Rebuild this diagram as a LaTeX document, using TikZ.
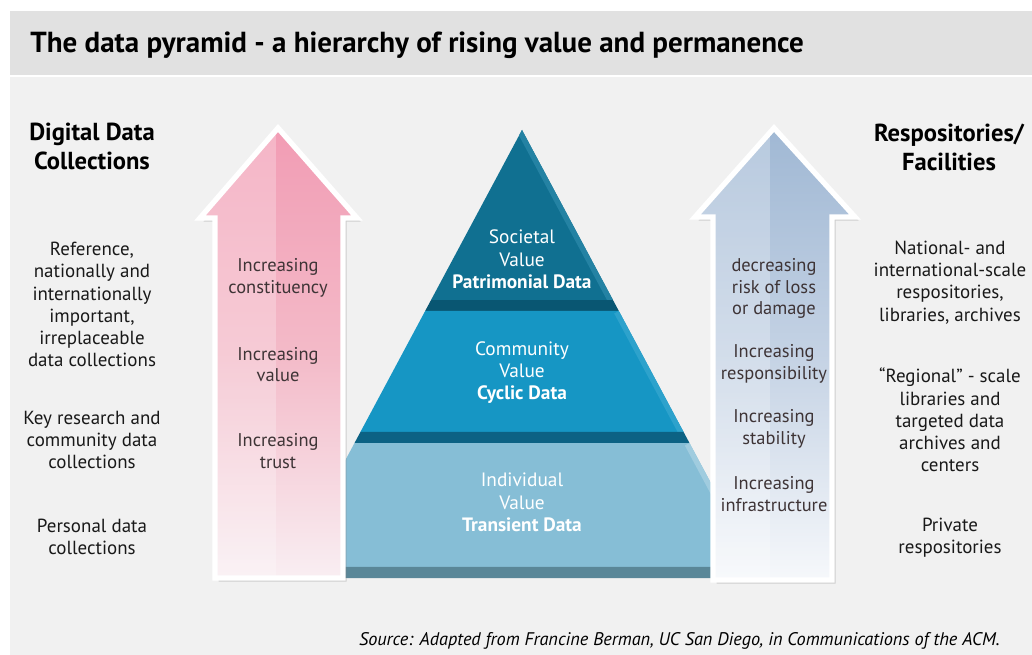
\documentclass[tikz,border=0pt]{standalone}
\usepackage{fontspec}
\setmainfont{PT Sans}
\usetikzlibrary{calc,shadows}
\definecolor{barGray}{HTML}{E1E1E1}
\definecolor{bodyGray}{HTML}{F1F1F1}
\definecolor{tierTop}{RGB}{16,112,145}
\definecolor{edgeTop}{RGB}{36,130,163}
\definecolor{bandTop}{RGB}{9,86,114}
\definecolor{tierMid}{RGB}{22,150,196}
\definecolor{edgeMid}{RGB}{45,162,204}
\definecolor{bandMid}{RGB}{12,98,132}
\definecolor{tierLow}{RGB}{134,190,214}
\definecolor{edgeLow}{RGB}{160,204,223}
\definecolor{bandLow}{RGB}{90,135,152}
\definecolor{pinkTop}{RGB}{242,156,180}
\definecolor{pinkMid}{RGB}{243,186,200}
\definecolor{pinkLow}{RGB}{249,238,242}
\definecolor{blueTop}{RGB}{160,184,212}
\definecolor{blueMid}{RGB}{196,210,228}
\definecolor{blueLow}{RGB}{246,248,251}
\definecolor{arrowText}{RGB}{62,52,54}
\tikzset{mytitle/.style={font=\fontsize{16.5}{19}\selectfont\bfseries, inner sep=0pt}}
\tikzset{myhead/.style={font=\fontsize{14}{16.5}\selectfont\bfseries, align=center, inner sep=0pt}}
\tikzset{mytext/.style={font=\fontsize{10.8}{12.6}\selectfont, align=center, inner sep=0pt, text=black!90}}
\tikzset{myarrowtext/.style={font=\fontsize{10.5}{12.3}\selectfont, align=center, inner sep=0pt, text=arrowText}}
\tikzset{mytier/.style={font=\fontsize{11}{12.7}\selectfont, align=center, inner sep=0pt, text=white}}
\tikzset{myarrow/.style={draw=white, line width=3pt, drop shadow={shadow xshift=2pt, shadow yshift=-2pt, opacity=0.3}}}

\begin{document}
\begin{tikzpicture}[x=0.02cm, y=-0.02cm]
	\useasboundingbox (0,0) rectangle (1032,655);

	% Background
	\fill[bodyGray] (10,11) rectangle (1032,655);
	\fill[barGray] (10,11) rectangle (1032,75);
	\fill[white] (10,75) rectangle (1032,77);

	\node[mytitle, anchor=west] (title) at (30,45) {The data pyramid - a hierarchy of rising value and permanence};

	% Pyramid
	\coordinate (apex) at (522,130);
	\coordinate (baseL) at (282.3,578);
	\coordinate (baseR) at (761.7,578);
	\coordinate (L1) at ($(apex)!0.3795!(baseL)$);
	\coordinate (R1) at ($(apex)!0.3795!(baseR)$);
	\coordinate (L2) at ($(apex)!0.4040!(baseL)$);
	\coordinate (R2) at ($(apex)!0.4040!(baseR)$);
	\coordinate (L3) at ($(apex)!0.6741!(baseL)$);
	\coordinate (R3) at ($(apex)!0.6741!(baseR)$);
	\coordinate (L4) at ($(apex)!0.6987!(baseL)$);
	\coordinate (R4) at ($(apex)!0.6987!(baseR)$);
	\coordinate (L5) at ($(apex)!0.9754!(baseL)$);
	\coordinate (R5) at ($(apex)!0.9754!(baseR)$);

	\fill[tierTop] (apex) -- (R1) -- (L1) -- cycle;
	\begin{scope}
		\clip (apex) -- (R1) -- (L1) -- cycle;
		\draw[edgeTop, line width=6pt] (apex) -- (R1);
	\end{scope}
	\fill[bandTop] (L1) -- (R1) -- (R2) -- (L2) -- cycle;

	\fill[tierMid] (L2) -- (R2) -- (R3) -- (L3) -- cycle;
	\begin{scope}
		\clip (L2) -- (R2) -- (R3) -- (L3) -- cycle;
		\draw[edgeMid, line width=6pt] (R2) -- (R3);
	\end{scope}
	\fill[bandMid] (L3) -- (R3) -- (R4) -- (L4) -- cycle;

	\fill[tierLow] (L4) -- (R4) -- (R5) -- (L5) -- cycle;
	\begin{scope}
		\clip (L4) -- (R4) -- (R5) -- (L5) -- cycle;
		\draw[edgeLow, line width=6pt] (R4) -- (R5);
	\end{scope}
	\fill[bandLow] (L5) -- (R5) -- (baseR) -- (baseL) -- cycle;

	% Arrows
	\path[myarrow, top color=pinkTop, bottom color=pinkLow, middle color=pinkMid]
		(278,128) -- (357,218) -- (343,218) -- (343,578) -- (215,578) -- (215,218) -- (200,218) -- cycle;
	\begin{scope}
		\clip (278,128) -- (357,218) -- (343,218) -- (343,578) -- (215,578) -- (215,218) -- (200,218) -- cycle;
		\fill[white, opacity=0.25] (195,120) rectangle (276,580);
	\end{scope}

	\path[myarrow, top color=blueTop, bottom color=blueLow, middle color=blueMid]
		(774,128) -- (855,217) -- (832,217) -- (832,580) -- (713,580) -- (713,217) -- (695,217) -- cycle;
	\begin{scope}
		\clip (774,128) -- (855,217) -- (832,217) -- (832,580) -- (713,580) -- (713,217) -- (695,217) -- cycle;
		\fill[white, opacity=0.25] (690,120) rectangle (770,582);
	\end{scope}

	% Left column
	\node[myhead] (digital) at (92,146.5) {Digital Data\\Collections};
	\node[mytext] (reference) at (92,304.5) {Reference,\\nationally and\\internationally\\important,\\irreplaceable\\data collections};
	\node[mytext] (keyresearch) at (92,440) {Key research and\\community data\\collections};
	\node[mytext] (personal) at (92,536.5) {Personal data\\collections};

	% Pink arrow
	\node[myarrowtext] (constituency) at (278,278) {Increasing\\constituency};
	\node[myarrowtext] (value) at (278,364.5) {Increasing\\value};
	\node[myarrowtext] (trust) at (278,451) {Increasing\\trust};

	% Tiers
	\node[mytier] (societal) at (522,259.5) {Societal\\Value\\\textbf{Patrimonial Data}};
	\node[mytier] (community) at (522,372.5) {Community\\Value\\\textbf{Cyclic Data}};
	\node[mytier] (individual) at (522,502.5) {Individual\\Value\\\textbf{Transient Data}};

	% Blue arrow
	\node[myarrowtext] (risk) at (774,288.5) {decreasing\\risk of loss\\or damage};
	\node[myarrowtext] (responsibility) at (774,364) {Increasing\\responsibility};
	\node[myarrowtext] (stability) at (774,429) {Increasing\\stability};
	\node[myarrowtext] (infrastructure) at (774,494) {Increasing\\infrastructure};

	% Right column
	\node[myhead] (facilities) at (949,147) {Respositories/\\Facilities};
	\node[mytext] (national) at (950,282.5) {National- and\\international-scale\\respositories,\\libraries, archives};
	\node[mytext] (regional) at (950,420) {“Regional” - scale\\libraries and\\targeted data\\archives and\\centers};
	\node[mytext] (private) at (950,537.5) {Private\\respositories};

	\node[font=\fontsize{10.4}{13}\selectfont\itshape, inner sep=0pt, anchor=east] (source) at (1000,641) {Source: Adapted from Francine Berman, UC San Diego, in Communications of the ACM.};

\end{tikzpicture}
\end{document}
